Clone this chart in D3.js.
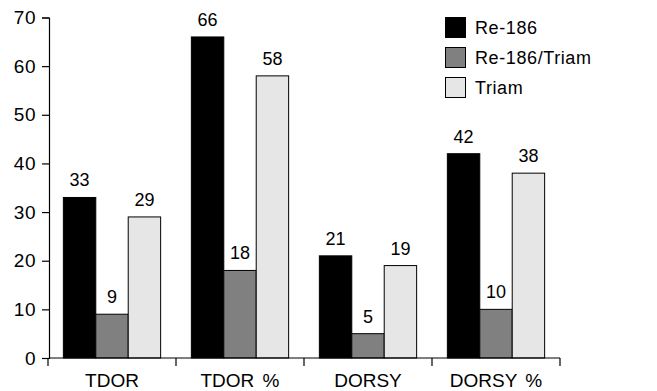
<!DOCTYPE html>
<html><head><meta charset="utf-8">
<script src="https://cdn.jsdelivr.net/npm/d3@7"></script>
<style>body{margin:0;background:#fff}svg{display:block}text{font-family:"Liberation Sans",Arial,sans-serif;fill:#000}</style>
</head><body><svg id="c" width="657" height="391"></svg>
<script>
const categories = ["TDOR", "TDOR %", "DORSY", "DORSY %"];
const seriesNames = ["Re-186", "Re-186/Triam", "Triam"];
const re186 = [33, 66, 21, 42];
const re186Triam = [9, 18, 5, 10];
const triam = [29, 58, 19, 38];
const yTicks = [0, 10, 20, 30, 40, 50, 60, 70];
const colors = ["#000000", "#808080", "#e6e6e6"];

(function () {
const seriesValues = [re186, re186Triam, triam];
const svg = d3.select("#c");
const mLeft = 49, mRight = 560, mTop = 17.5, mBottom = 358;

const x0 = d3.scaleBand().domain(categories).range([mLeft - 1, mRight]).padding(0);
const bw = x0.bandwidth();
const x1 = d3.scaleBand().domain(seriesNames).range([bw * 0.12, bw * 0.88]).padding(0);
const y = d3.scaleLinear().domain([0, 70]).range([mBottom, mTop]);

// y axis
const yAxis = d3.axisLeft(y).tickValues(yTicks).tickSize(7).tickSizeOuter(7).tickPadding(6);
const gy = svg.append("g").attr("transform", `translate(${mLeft},0)`).call(yAxis);
gy.selectAll("text").style("font-size", "19px").style("letter-spacing", "0.5px").attr("fill", "#000");
gy.selectAll("line,path").attr("stroke", "#000").attr("stroke-width", 1.2);

// bars
const groups = svg.append("g").selectAll("g").data(categories).join("g")
  .attr("transform", d => `translate(${x0(d)},0)`);
groups.each(function(cat, ci) {
  const g = d3.select(this);
  seriesNames.forEach((s, si) => {
    const v = seriesValues[si][ci];
    g.append("rect")
      .attr("x", x1(s)).attr("y", y(v))
      .attr("width", x1.bandwidth()).attr("height", y(0) - y(v))
      .attr("fill", colors[si]).attr("stroke", "#000").attr("stroke-width", 1);
    g.append("text")
      .attr("x", x1(s) + x1.bandwidth() / 2).attr("y", y(v) - 11)
      .attr("text-anchor", "middle").style("font-size", "18px").text(v);
  });
});

// x axis
const gx = svg.append("g");
gx.append("line").attr("x1", mLeft).attr("x2", mRight).attr("y1", mBottom).attr("y2", mBottom)
  .attr("stroke", "#000").attr("stroke-width", 1.2);
const bounds = categories.map(c => x0(c)).concat([x0(categories[categories.length - 1]) + bw]);
gx.selectAll("line.t").data(bounds).join("line").attr("class", "t")
  .attr("x1", d => d).attr("x2", d => d).attr("y1", mBottom).attr("y2", mBottom + 8)
  .attr("stroke", "#000").attr("stroke-width", 1.2);
gx.selectAll("text").data(categories).join("text")
  .attr("x", d => x0(d) + bw / 2).attr("y", 387).attr("text-anchor", "middle")
  .style("font-size", "19px").style("word-spacing", "3px").text(d => d);

// legend
const lg = svg.append("g");
seriesNames.forEach((s, i) => {
  lg.append("rect").attr("x", 445.5).attr("y", 17.5 + i * 30).attr("width", 20).attr("height", 20)
    .attr("fill", colors[i]).attr("stroke", "#000").attr("stroke-width", 1);
  lg.append("text").attr("x", 475).attr("y", 34 + i * 30).style("font-size", "18px")
    .style("letter-spacing", "0.6px").text(s);
});
})();
</script></body></html>
